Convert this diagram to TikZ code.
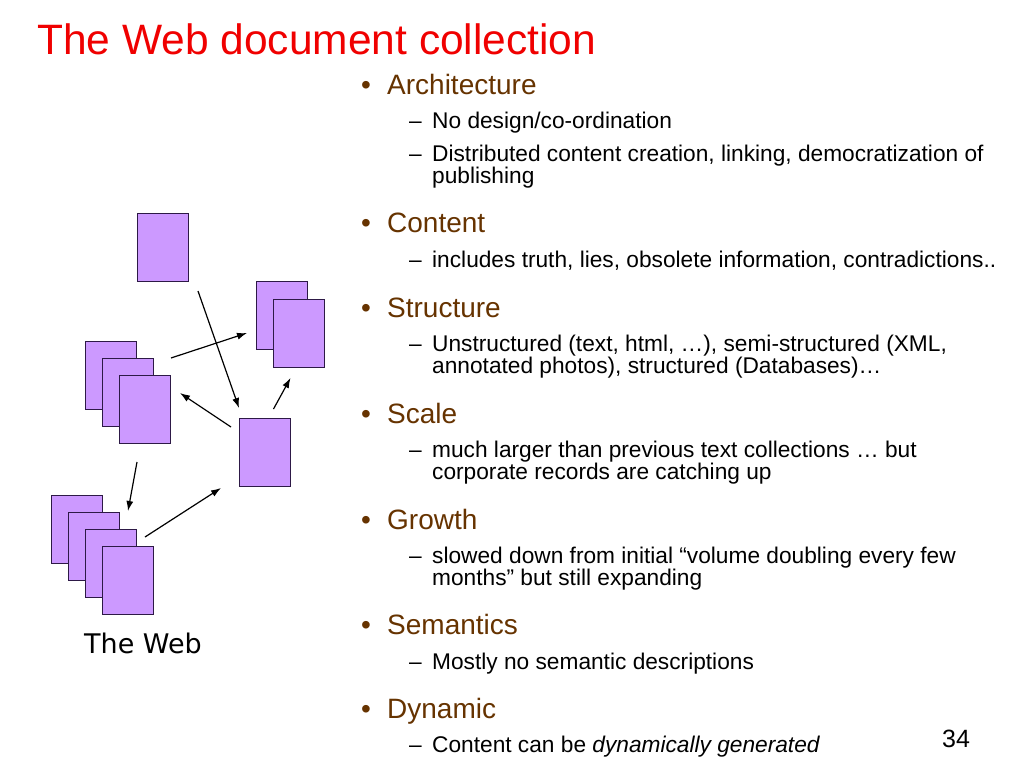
\documentclass[tikz,border=0pt]{standalone}
\usepackage{fontspec}
\setmainfont{Liberation Sans}
\newfontfamily\webfont{DejaVu Sans}
\usetikzlibrary{calc,arrows.meta}
\definecolor{docfill}{RGB}{204,153,255}
\definecolor{docline}{RGB}{45,25,70}
\definecolor{headbrown}{RGB}{102,51,0}
\definecolor{titlered}{RGB}{240,0,0}
\tikzset{
  doc/.style={draw=docline, fill=docfill, line width=1pt, minimum width=51pt,
    minimum height=68pt, inner sep=0pt, anchor=north west},
  link/.style={->, >={Latex[length=10pt,width=7pt]}, line width=1.2pt},
  head/.style={anchor=base west, inner sep=0pt, text=headbrown,
    font=\fontsize{28}{30}\selectfont},
  sub/.style={anchor=base west, inner sep=0pt, align=left,
    font=\fontsize{22.7}{22}\selectfont},
}
\begin{document}
\begin{tikzpicture}[x=1pt, y=-1pt]
  \fill[white] (0,0) rectangle (1024,768);
  \useasboundingbox (0,0) rectangle (1024,768);

  \node[anchor=base west, inner sep=0pt, text=titlered,
    font=\fontsize{42.5}{46}\selectfont] (title) at (37,55) {The Web document collection};

  % les documents du web
  \node[doc] (top) at (137,213) {};
  \node[doc] (r1) at (256,281) {};
  \node[doc] (r2) at (273,299) {};
  \node[doc] (l1) at (85,341) {};
  \node[doc] (l2) at (102,358) {};
  \node[doc] (l3) at (119,375) {};
  \node[doc] (mid) at (239,418) {};
  \node[doc] (b1) at (51,495) {};
  \node[doc] (b2) at (68,512) {};
  \node[doc] (b3) at (85,529) {};
  \node[doc] (b4) at (102,546) {};

  \node[anchor=base west, inner sep=0pt, font=\webfont\fontsize{27}{30}\selectfont] (web) at (84,653) {The Web};

  \draw[link] ($(top.south east)+(9,9)$) -- ($(mid.north west)+(0,-10)$);
  \draw[link] ($(l2.north east)+(17,0)$) -- ($(r1.south west)+(-9,-17)$);
  \draw[link] ($(mid.north west)+(-8,9)$) -- ($(l3.north east)+(9,18)$);
  \draw[link] ($(mid.north)+(8.5,-9)$) -- ($(r2.south)+(-8.5,10)$);
  \draw[link] ($(l3.south west)+(18,18)$) -- ($(b2.north east)+(8,-1)$);
  \draw[link] ($(b3.north east)+(8,8)$) -- ($(mid.south west)+(-18,1)$);

  % liste des points (noeuds sur deux lignes : ligne de base de la derniere ligne)
  \node[head] (arch) at (361,94) {\makebox[26pt][l]{•}Architecture};
  \node[sub] (arch1) at (409,128) {\makebox[23pt][l]{–}No design/co-ordination};
  \node[sub] (arch2) at (409,183) {\makebox[23pt][l]{–}Distributed content creation, linking, democratization of\\\hspace*{23pt}publishing};
  \node[head] (cont) at (361,232) {\makebox[26pt][l]{•}Content};
  \node[sub] (cont1) at (409,267) {\makebox[23pt][l]{–}includes truth, lies, obsolete information, contradictions..};
  \node[head] (struc) at (361,317) {\makebox[26pt][l]{•}Structure};
  \node[sub] (struc1) at (409,373) {\makebox[23pt][l]{–}Unstructured (text, html, …), semi-structured (XML,\\\hspace*{23pt}annotated photos), structured (Databases)…};
  \node[head] (scale) at (361,423) {\makebox[26pt][l]{•}Scale};
  \node[sub] (scale1) at (409,479) {\makebox[23pt][l]{–}much larger than previous text collections … but\\\hspace*{23pt}corporate records are catching up};
  \node[head] (grow) at (361,529) {\makebox[26pt][l]{•}Growth};
  \node[sub] (grow1) at (409,585) {\makebox[23pt][l]{–}slowed down from initial “volume doubling every few\\\hspace*{23pt}months” but still expanding};
  \node[head] (sem) at (361,634) {\makebox[26pt][l]{•}Semantics};
  \node[sub] (sem1) at (409,669) {\makebox[23pt][l]{–}Mostly no semantic descriptions};
  \node[head] (dyn) at (361,718) {\makebox[26pt][l]{•}Dynamic};
  \node[sub] (dyn1) at (409,752) {\makebox[23pt][l]{–}Content can be \textit{dynamically generated}};

  \node[anchor=base west, inner sep=0pt, font=\fontsize{25}{28}\selectfont] (page) at (942,747) {34};
\end{tikzpicture}
\end{document}
